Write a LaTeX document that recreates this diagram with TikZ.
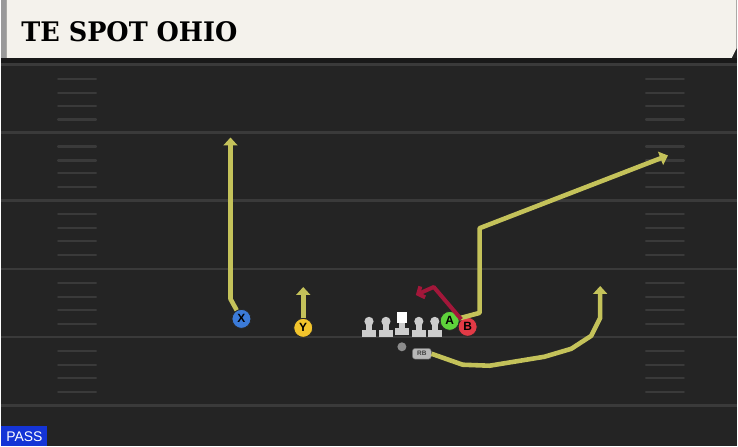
\documentclass[tikz,border=0pt]{standalone}
\usepackage{fontspec}
\setsansfont{Liberation Sans}
\newfontfamily\titlefont{DejaVu Serif}
\usetikzlibrary{arrows.meta,positioning}
\definecolor{turf}{HTML}{242424}
\definecolor{stripe}{HTML}{3A3A3A}
\definecolor{cream}{HTML}{F4F2EC}
\definecolor{routeyel}{HTML}{C4C25A}
\definecolor{blockred}{HTML}{A3173A}
\definecolor{btnX}{HTML}{3B7BD9}
\definecolor{btnY}{HTML}{F2C42C}
\definecolor{btnA}{HTML}{5ED23B}
\definecolor{btnB}{HTML}{E23A46}
\definecolor{passblue}{HTML}{1434D6}

\tikzset{
  yardline/.style={draw=stripe,line width=2.6pt},
  hashmark/.style={draw=stripe,line width=2.2pt,line cap=round},
  player/.style={circle,draw=black!85,line width=0.8pt,minimum size=19pt,inner sep=0pt,
                 font=\sffamily\bfseries\fontsize{12}{12}\selectfont},
  route/.style={draw=routeyel,line width=4.6pt,line join=round,-{Triangle[length=8pt,width=14pt]}},
  blockroute/.style={draw=blockred,line width=4pt,line join=round,-{Straight Barb[length=5pt,width=12pt]}},
  lineman/.style={fill=black!20},
}

\begin{document}
\begin{tikzpicture}[x=1pt,y=-1pt]
% field and header
\fill[turf] (0,0) rectangle (738,448);
\fill[cream] (5,0) -- (738,0) -- (738,48) -- (733,58) -- (5,58) -- cycle;
\fill[black!40] (0,0) rectangle (5,58);
\fill[black!90] (0,58) rectangle (738,63);
\node[anchor=base west,inner sep=0pt] (title) at (20,42)
  {\titlefont\bfseries\fontsize{27}{27}\selectfont\scalebox{0.95}[1]{TE SPOT OHIO}};

% yard lines and hashes
\draw[yardline] (0,65) -- (738,65);
\foreach \y in {133,201,270,338,407}
  \draw[yardline] (0,\y) -- (738,\y);
\foreach \y in {65,133,201,270,338}
  \foreach \d in {14,28,41,55} {
    \draw[hashmark] (57,\y+\d) -- (95,\y+\d);
    \draw[hashmark] (647,\y+\d) -- (685,\y+\d);
  }

% line
\foreach \x/\n in {369/lt,386/lg,419/rg,435/rt} {
  \coordinate (\n) at (\x,329);
  \fill[lineman] (\x-7,331) rectangle (\x+7,338);
  \fill[lineman] (\x-3,324) rectangle (\x+3,333);
  \fill[lineman] (\x,322.5) circle (4.6);
}
\coordinate (ctr) at (402,329);
\fill[lineman] (395,329) rectangle (409,336);
\fill[lineman] (399,322) rectangle (405,331);
\fill[white] (397,313) rectangle (407,324);
\node[circle,fill=black!45,inner sep=0pt,minimum size=9pt] (qb) at (402,348) {};
\node[rounded corners=3pt,fill=black!28,draw=black!60,line width=0.5pt,minimum width=19pt,minimum height=11pt,
      inner sep=0pt,font=\sffamily\bfseries\fontsize{6.5}{6.5}\selectfont,text=black!75] (rb) at (422,355) {RB};

% receivers
\node[player,fill=btnX] (X) at (241,320) {X};
\node[player,fill=btnY] (Y) at (303,329) {Y};
\node[player,fill=btnA] (A) at (450,322) {A};
\node[player,fill=btnB] (B) at (468,328) {B};

% routes
\coordinate (xcut) at (230,300);
\coordinate (xend) at (230,138);
\coordinate (yend) at (303,288);
\coordinate (bcut) at (434,288);
\coordinate (bend) at (416,296);
\coordinate (aout) at (480,314);
\coordinate (acut) at (480,229);
\coordinate (aend) at (669,156);
\draw[route] (X) -- (xcut) -- (xend);
\draw[route] (Y) -- (yend);
\draw[route] (A) -- (aout) -- (acut) -- (aend);
\draw[blockroute] (B) -- (bcut) -- (bend);
\draw[route] (rb.east) -- (463,366) -- (490,367) -- (545,358) -- (572,350)
  -- (592,337) -- (601,319) -- (601,287);

% play type
\node[fill=passblue,text=white,anchor=south west,minimum width=46pt,minimum height=20pt,inner sep=0pt,
      font=\sffamily\fontsize{14}{14}\selectfont] (ptype) at (0,448) {PASS};
\end{tikzpicture}
\end{document}
